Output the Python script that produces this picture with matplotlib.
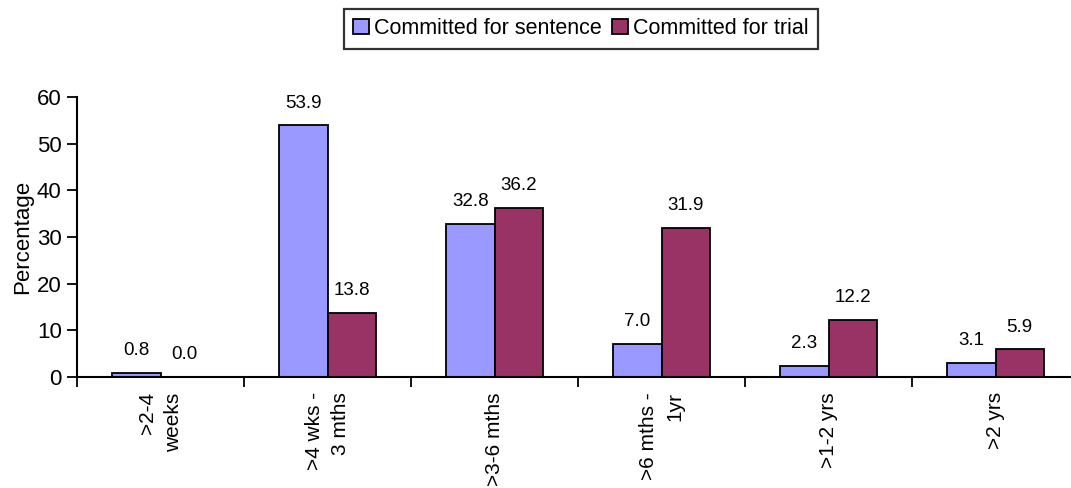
import matplotlib
matplotlib.use("Agg")
import matplotlib.pyplot as plt
import numpy as np

categories = [">2-4\nweeks", ">4 wks -\n3 mths", ">3-6 mths", ">6 mths -\n1yr", ">1-2 yrs", ">2 yrs"]
sentence = [0.8, 53.9, 32.8, 7.0, 2.3, 3.1]
trial = [0.0, 13.8, 36.2, 31.9, 12.2, 5.9]
series_names = ["Committed for sentence", "Committed for trial"]
yticks = [0, 10, 20, 30, 40, 50, 60]

plt.rcParams['font.family'] = ['Liberation Sans', 'DejaVu Sans']

fig = plt.figure(figsize=(10.71, 4.88), dpi=100)
ax = fig.add_axes([0.0719, 0.2275, 0.9356, 0.5737])

x = np.arange(len(categories))
w = 0.29
b1 = ax.bar(x - w / 2, sentence, w, color="#9999FF", edgecolor="black", linewidth=1.3, label=series_names[0])
b2 = ax.bar(x + w / 2, trial, w, color="#993366", edgecolor="black", linewidth=1.3, label=series_names[1])

for bars, vals in ((b1, sentence), (b2, trial)):
    for r, v in zip(bars, vals):
        ax.annotate(f"{v:.1f}", (r.get_x() + r.get_width() / 2, v), xytext=(0, 10),
                    textcoords="offset points", ha="center", va="bottom", fontsize=13.5)

ax.set_xlim(-0.5, len(categories) - 0.5)
ax.set_ylim(0, 60)
ax.set_yticks(yticks)
ax.tick_params(axis="y", labelsize=16, length=7, width=1.3, direction="out", pad=4)

ax.set_xticks(x)
ax.set_xticklabels(categories, rotation=90, ha="center", va="top", multialignment="right",
                   fontsize=15, linespacing=1.45)
ax.tick_params(axis="x", which="major", length=0, pad=11)
ax.set_xticks(np.arange(len(categories) + 1) - 0.5, minor=True)
ax.tick_params(axis="x", which="minor", length=7, width=1.3, direction="out")

for s in ("top", "right"):
    ax.spines[s].set_visible(False)
for s in ("left", "bottom"):
    ax.spines[s].set_linewidth(1.5)

ax.set_ylabel("Percentage", fontsize=16, labelpad=3)

leg = fig.legend(handles=[b1, b2], loc="center", bbox_to_anchor=(0.5425, 0.9406), ncol=2,
                 frameon=True, fancybox=False, fontsize=15.5, handlelength=0.7, handleheight=0.7,
                 handletextpad=0.25, columnspacing=0.5, borderpad=0.45, borderaxespad=0, edgecolor="black")
leg.get_frame().set_linewidth(1.6)

fig.savefig("out.png", dpi=100)
